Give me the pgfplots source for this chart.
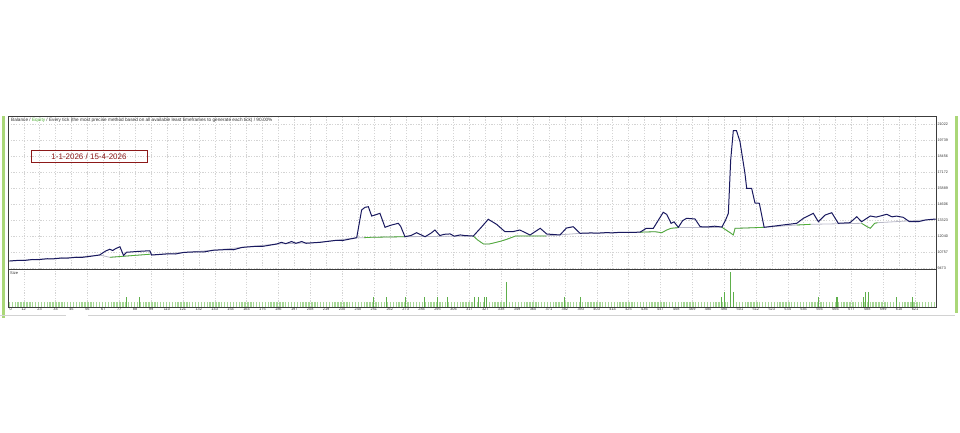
\documentclass[border=0pt]{standalone}
\usepackage{pgfplots}
\pgfplotsset{compat=1.18}
\usepackage{fontspec}
\setmainfont{Liberation Sans}
\definecolor{bal}{RGB}{25,25,95}
\definecolor{eqg}{RGB}{80,175,55}
\definecolor{eqgrey}{RGB}{185,185,200}
\definecolor{sizeg}{RGB}{120,195,95}
\definecolor{spikeg}{RGB}{95,175,75}
\definecolor{gridc}{RGB}{212,212,212}
\definecolor{framec}{RGB}{60,60,60}
\definecolor{boxred}{RGB}{140,25,25}
\definecolor{sideg}{RGB}{170,215,120}
\definecolor{labc}{RGB}{50,50,50}
\begin{document}
\begin{tikzpicture}[x=1pt,y=1pt]
\useasboundingbox (0,0) rectangle (960,432);
\fill[sideg] (2,114) rectangle (4.5,316);
\fill[sideg] (955,119) rectangle (957.5,316);
\draw[gray!35, line width=1pt] (0,117) -- (66,117);
\draw[gray!35, line width=1pt] (88,117) -- (955,117);
% ---------- main panel ----------
\begin{axis}[
  at={(8pt,163pt)}, anchor=south west, scale only axis,
  width=928pt, height=153pt,
  xmin=-1, xmax=637.2, ymin=9417, ymax=21688,
  axis line style={draw=framec, line width=0.6pt},
  xtick={9.8,20.75,31.69,42.64,53.58,64.53,75.48,86.42,97.37,108.31,119.26,130.21,141.15,152.10,163.04,173.99,184.94,195.88,206.83,217.77,228.72,239.67,250.61,261.56,272.50,283.45,294.40,305.34,316.29,327.23,338.18,349.13,360.07,371.02,381.96,392.91,403.86,414.80,425.75,436.69,447.64,458.59,469.53,480.48,491.42,502.37,513.32,524.26,535.21,546.15,557.10,568.05,578.99,589.94,600.88,611.83,622.78},
  xticklabels={}, x tick style={draw=none},
  ytick={9473,10757,12040,13323,14606,15889,17172,18456,19739,21022},
  scaled y ticks=false,
  yticklabel pos=right, ytick pos=right,
  y tick style={draw=framec, line width=0.4pt}, tick align=outside, major tick length=1pt,
  yticklabel style={font=\fontsize{3.7}{4}\selectfont, text=labc, anchor=west, inner sep=0.4pt},
  /pgf/number format/fixed, /pgf/number format/precision=0, /pgf/number format/set thousands separator={}, /pgf/number format/assume math mode=true,
  grid=major, major grid style={gridc, dash pattern=on 1.2pt off 1.5pt, line width=0.35pt},
  unbounded coords=jump, clip=true,
]
% equity (grey underlay)
\addplot[eqgrey, line width=0.8pt] coordinates {
(0,10058)(10,10130)(20,10200)(30,10260)(40,10330)(50,10400)(62,10540)(69,10355)(96.5,10600)(97.8,10540)
(120,10750)(140,10920)(160,11150)(183.8,11422)(213.6,11558)(238.8,11927)(244,11930)(249,11960)(272,12007)
(319,12060)(322,11743)(326,11422)(330,11422)(338,11650)(342,11800)(348,12060)(369,12070)(392.4,12280)
(433.6,12370)(444,12408)(448.6,12328)(452,12545)(455,12681)(460,12740)(490,12760)(496,12300)(497.8,12143)
(499,12681)(505,12700)(519,12761)(541.4,12946)(551,13000)(586,13082)(590,12800)(592,12681)(595,13082)
(597,13130)(637,13400)};
% equity (green parts)
\addplot[eqg, line width=0.8pt] coordinates {
(69,10355)(96.5,10600)(96.6,nan)
(244,11930)(249,11960)(272,12007)(272.1,nan)
(319,12060)(322,11743)(326,11422)(330,11422)(338,11650)(342,11800)(348,12060)(369,12070)(369.1,nan)
(433.6,12370)(444,12408)(448.6,12328)(452,12545)(455,12681)(460,12740)(460.1,nan)
(490,12760)(496,12300)(497.8,12143)(499,12681)(505,12700)(519,12761)(519.1,nan)
(541.4,12946)(551,13000)(551.1,nan)
(586,13082)(590,12800)(592,12681)(595,13082)(597,13130)};
% balance
\addplot[bal, line width=1pt] coordinates {
(0,10058)(6,10110)(10,10100)(16,10180)(20,10170)(26,10240)(30,10230)(36,10300)(40,10290)(46,10360)(50,10350)(56,10440)(62,10540)(66,10850)(69,11000)(71,10900)
(73,11050)(76,11200)(78.5,10500)(80.5,10760)(90,10840)(96.5,10880)(97.8,10540)(110,10640)(114,10620)(120,10750)(130,10800)(134,10790)(140,10920)(150,10980)(154,10960)
(160,11150)(170,11240)(174,11230)(183.8,11422)(187,11558)(190,11450)(194,11620)(197,11480)(201,11620)(204,11480)(213.6,11558)
(225,11720)(229,11700)(238.8,11927)(242.2,14149)(244.5,14365)(246.8,14413)(249.1,13667)(251.4,13748)(254.8,13884)(258.3,12761)
(262,12920)(267.4,13082)(269,12850)(272,12007)(276,12100)(280,12328)(285.8,12007)(290,12300)(292.6,12545)
(296,12100)(299,12200)(303,12230)(306,12050)(310,12150)(313,12100)(319,12060)(324,12700)(329.3,13403)
(335,13000)(340.8,12408)(346,12408)(351,12545)(358,12143)(365,12681)(369.5,12224)(378.6,12143)(383,12700)
(387.7,12810)(392.4,12280)(400,12310)(404,12290)(410,12330)(415,12320)(420,12360)(426,12350)(433.6,12370)(438,12681)(442.8,12681)
(449.6,13964)(452,13800)(455,13082)(457,13200)(460,12761)(463,13300)(465.7,13483)(471.5,13427)(475,12810)
(480,12790)(485,12850)(490,12780)(492.5,13347)(494.4,13884)(496,18158)(497.8,20508)(500,20508)(502.4,19627)
(505.8,17092)(507,15889)(510.4,15889)(512.7,14710)(515.7,14686)(519,12761)(541.4,13082)(546,13483)
(552.8,13884)(556.3,13210)(561,13748)(565.5,13932)(570,13082)(578,13130)(582.7,13611)(586,13210)
(592,13667)(596,13580)(600,13700)(603.3,13804)(607,13600)(610,13660)(614.6,13563)(619,13210)(625,13210)
(630,13350)(637,13427)};
\end{axis}
% ---------- size panel ----------
\begin{axis}[
  at={(8pt,125pt)}, anchor=south west, scale only axis,
  width=928pt, height=38pt,
  xmin=-1, xmax=637.2, ymin=0, ymax=7.6,
  axis line style={draw=framec, line width=0.6pt},
  ytick=\empty,
  xtick={0.9,9.8,20.75,31.69,42.64,53.58,64.53,75.48,86.42,97.37,108.31,119.26,130.21,141.15,152.10,163.04,173.99,184.94,195.88,206.83,217.77,228.72,239.67,250.61,261.56,272.50,283.45,294.40,305.34,316.29,327.23,338.18,349.13,360.07,371.02,381.96,392.91,403.86,414.80,425.75,436.69,447.64,458.59,469.53,480.48,491.42,502.37,513.32,524.26,535.21,546.15,557.10,568.05,578.99,589.94,600.88,611.83,622.78},
  xticklabels={0,12,23,34,45,56,67,77,88,99,110,121,132,143,154,164,175,186,197,208,219,230,240,251,262,273,284,295,306,317,327,338,349,360,371,382,393,403,414,425,436,447,458,469,480,490,501,512,523,534,545,556,566,577,588,599,610,621},
  x tick style={draw=none},
  xticklabel style={font=\fontsize{3.9}{4}\selectfont, text=labc, inner sep=0.6pt, yshift=-0.3pt},
  extra x ticks={9.8,31.69,53.58,75.48,97.37,119.26,141.15,163.04,184.94,206.83,228.72,250.61,272.50,294.40,316.29,338.18,360.07,381.96,403.86,425.75,447.64,469.53,491.42,513.32,535.21,557.10,578.99,600.88,622.78},
  extra x tick labels={},
  extra x tick style={grid=major, major grid style={gridc, dash pattern=on 1.2pt off 1.5pt, line width=0.35pt}, tick style={draw=none}},
  clip=true,
]
\addplot[ycomb, sizeg!65!white, line width=1.4pt, no marks] coordinates {
(0,1)(2,1)(4,1)(6,1)(8,1)(10,1)(12,1)(14,1)(16,1)(18,1)
(20,1)(22,1)(24,1)(26,1)(28,1)(30,1)(32,1)(34,1)(36,1)(38,1)
(40,1)(42,1)(44,1)(46,1)(48,1)(50,1)(52,1)(54,1)(56,1)(58,1)
(60,1)(62,1)(64,1)(66,1)(68,1)(70,1)(72,1)(74,1)(76,1)(78,1)
(80,1)(82,1)(84,1)(86,1)(88,1)(90,1)(92,1)(94,1)(96,1)(98,1)
(100,1)(102,1)(104,1)(106,1)(108,1)(110,1)(112,1)(114,1)(116,1)(118,1)
(120,1)(122,1)(124,1)(126,1)(128,1)(130,1)(132,1)(134,1)(136,1)(138,1)
(140,1)(142,1)(144,1)(146,1)(148,1)(150,1)(152,1)(154,1)(156,1)(158,1)
(160,1)(162,1)(164,1)(166,1)(168,1)(170,1)(172,1)(174,1)(176,1)(178,1)
(180,1)(182,1)(184,1)(186,1)(188,1)(190,1)(192,1)(194,1)(196,1)(198,1)
(200,1)(202,1)(204,1)(206,1)(208,1)(210,1)(212,1)(214,1)(216,1)(218,1)
(220,1)(222,1)(224,1)(226,1)(228,1)(230,1)(232,1)(234,1)(236,1)(238,1)
(240,1)(242,1)(244,1)(246,1)(248,1)(250,1)(252,1)(254,1)(256,1)(258,1)
(260,1)(262,1)(264,1)(266,1)(268,1)(270,1)(272,1)(274,1)(276,1)(278,1)
(280,1)(282,1)(284,1)(286,1)(288,1)(290,1)(292,1)(294,1)(296,1)(298,1)
(300,1)(302,1)(304,1)(306,1)(308,1)(310,1)(312,1)(314,1)(316,1)(318,1)
(320,1)(322,1)(324,1)(326,1)(328,1)(330,1)(332,1)(334,1)(336,1)(338,1)
(340,1)(342,1)(344,1)(346,1)(348,1)(350,1)(352,1)(354,1)(356,1)(358,1)
(360,1)(362,1)(364,1)(366,1)(368,1)(370,1)(372,1)(374,1)(376,1)(378,1)
(380,1)(382,1)(384,1)(386,1)(388,1)(390,1)(392,1)(394,1)(396,1)(398,1)
(400,1)(402,1)(404,1)(406,1)(408,1)(410,1)(412,1)(414,1)(416,1)(418,1)
(420,1)(422,1)(424,1)(426,1)(428,1)(430,1)(432,1)(434,1)(436,1)(438,1)
(440,1)(442,1)(444,1)(446,1)(448,1)(450,1)(452,1)(454,1)(456,1)(458,1)
(460,1)(462,1)(464,1)(466,1)(468,1)(470,1)(472,1)(474,1)(476,1)(478,1)
(480,1)(482,1)(484,1)(486,1)(488,1)(490,1)(492,1)(494,1)(496,1)(498,1)
(500,1)(502,1)(504,1)(506,1)(508,1)(510,1)(512,1)(514,1)(516,1)(518,1)
(520,1)(522,1)(524,1)(526,1)(528,1)(530,1)(532,1)(534,1)(536,1)(538,1)
(540,1)(542,1)(544,1)(546,1)(548,1)(550,1)(552,1)(554,1)(556,1)(558,1)
(560,1)(562,1)(564,1)(566,1)(568,1)(570,1)(572,1)(574,1)(576,1)(578,1)
(580,1)(582,1)(584,1)(586,1)(588,1)(590,1)(592,1)(594,1)(596,1)(598,1)
(600,1)(602,1)(604,1)(606,1)(608,1)(610,1)(612,1)(614,1)(616,1)(618,1)
(620,1)(622,1)(624,1)(626,1)(628,1)(630,1)(632,1)(634,1)(636,1)};
\addplot[ycomb, spikeg, line width=0.6pt, no marks] coordinates {
(80.6,2)(89.3,2)(250.2,2)(259.4,2)(272.5,2)(285.3,2)(294.2,2)(301.4,2)(319.7,2)(322.7,2)(326.6,2)(327.9,2)
(341.5,5)(381.6,2)(392.6,2)(489.6,2)(491.6,3)(495.7,7)(497.8,3)(556.3,2)(568.9,2)(569.6,2)(587.5,2)
(588.6,3)(590.6,3)(609.9,2)(621.2,2)};
\draw[framec, line width=1.2pt] (rel axis cs:0,1) -- (rel axis cs:1,1);
\end{axis}
% texts
\node[anchor=north west, inner sep=0, font=\fontsize{4.7}{5}\selectfont, text=black!80] at (11,314.5)
  {Balance / \textcolor{eqg}{Equity} / Every tick (the most precise method based on all available least timeframes to generate each tick) / 90.00\%};
\node[draw=boxred, line width=0.7pt, text=boxred, font=\fontsize{8}{9}\selectfont, minimum width=116pt, minimum height=11.5pt, inner sep=0] at (89,275.6) {1-1-2026 / 15-4-2026};
\node[anchor=west, inner sep=0, font=\fontsize{4}{4}\selectfont, text=black!80] at (10,158.5) {Size};
\end{tikzpicture}
\end{document}
